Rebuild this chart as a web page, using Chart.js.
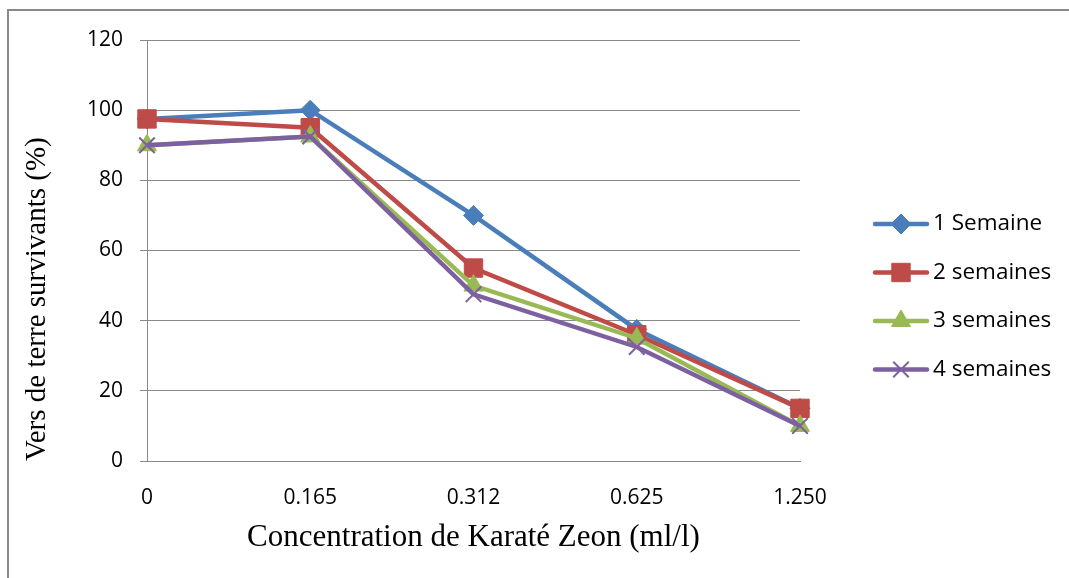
<!DOCTYPE html>
<html>
<head>
<meta charset="utf-8">
<script src="https://cdn.jsdelivr.net/npm/chart.js@4/dist/chart.umd.min.js"></script>
<style>
  html, body { margin: 0; padding: 0; background: #fff; }
  #wrap { width: 1069px; height: 578px; }
</style>
</head>
<body>
<div id="wrap"><canvas id="survieChart" width="1069" height="578"></canvas></div>
<script>
// Concentrations (ml/l) on the x axis
const concentrations = ['0', '0.165', '0.312', '0.625', '1.250'];

// Surviving earthworms (%) per week of exposure
const semaine1 = [97.5, 100, 70, 37.5, 15];
const semaine2 = [97.5, 95, 55, 36, 15];
const semaine3 = [90, 92.5, 50, 35, 10];
const semaine4 = [90, 92.5, 47.5, 32.5, 10];

const seriesLabels = ['1 Semaine', '2 semaines', '3 semaines', '4 semaines'];

const tickFont = { family: 'Open Sans', size: 21 };
const legendFont = '22.5px "Open Sans"';
const serifFont = 'Liberation Serif';

function serie(label, data, color, style, radius, order) {
    return {
        label: label,
        data: data,
        borderColor: color,
        backgroundColor: color,
        borderWidth: 4.5,
        pointStyle: style,
        pointRadius: radius,
        pointHoverRadius: radius,
        pointBackgroundColor: color,
        pointBorderColor: color,
        pointBorderWidth: style === 'crossRot' ? 2 : 1,
        lineTension: 0,
        clip: false,
        order: order
    };
}

// frame round the whole chart + legend with line and marker
const framePlugin = {
    id: 'frame',
    afterDraw(chart) {
        const ctx = chart.ctx;
        ctx.save();
        ctx.strokeStyle = '#898989';
        ctx.lineWidth = 2;
        ctx.strokeRect(8, 10, 1100, 600);

        chart.data.datasets.forEach(function(ds, i) {
            const y = 224 + i * 48.5;
            ctx.strokeStyle = ds.borderColor;
            ctx.fillStyle = ds.borderColor;
            ctx.lineWidth = 4.5;
            ctx.lineCap = 'round';
            ctx.beginPath();
            ctx.moveTo(875, y);
            ctx.lineTo(927, y);
            ctx.stroke();
            ctx.lineCap = 'butt';
            ctx.lineWidth = ds.pointBorderWidth;
            Chart.helpers.drawPoint(ctx, {
                pointStyle: ds.pointStyle,
                radius: ds.pointRadius,
                borderWidth: ds.pointBorderWidth,
                rotation: 0
            }, 901, y);
            ctx.fillStyle = '#000';
            ctx.font = legendFont;
            ctx.textBaseline = 'middle';
            ctx.textAlign = 'left';
            ctx.fillText(ds.label, 933, y);
        });
        ctx.restore();
    }
};

const ctx = document.getElementById('survieChart').getContext('2d');

new Chart(ctx, {
    type: 'line',
    data: {
        labels: concentrations,
        datasets: [
            serie(seriesLabels[0], semaine1, '#4A7EBB', 'rectRot', 10, 4),
            serie(seriesLabels[1], semaine2, '#BE4B48', 'rect', 13, 3),
            serie(seriesLabels[2], semaine3, '#98B954', 'triangle', 11, 2),
            serie(seriesLabels[3], semaine4, '#7D60A0', 'crossRot', 11, 1)
        ]
    },
    options: {
        responsive: false,
        animation: false,
        events: [],
        layout: { padding: { left: 8, top: 40, right: 269, bottom: 8 } },
        plugins: {
            legend: { display: false },
            tooltip: { enabled: false }
        },
        scales: {
            x: {
                offset: false,
                grid: { display: false },
                border: { display: true, color: '#898989', width: 1 },
                ticks: { color: '#000', font: tickFont, padding: 16, maxRotation: 0 },
                title: {
                    display: true,
                    text: 'Concentration de Karaté Zeon (ml/l)',
                    color: '#000',
                    font: { family: serifFont, size: 31 },
                    padding: { top: 0, bottom: 14 }
                },
                afterFit(scale) { scale.height = 109; }
            },
            y: {
                min: 0,
                max: 120,
                ticks: { stepSize: 20, color: '#000', font: tickFont, padding: 17 },
                grid: { color: '#898989', lineWidth: 1, drawTicks: true, tickLength: 7 },
                border: { display: true, color: '#898989', width: 1 },
                title: {
                    display: true,
                    text: 'Vers de terre survivants (%)',
                    align: 'start',
                    color: '#000',
                    font: { family: serifFont, size: 29 },
                    padding: { top: 12, bottom: 0 }
                },
                afterFit(scale) { scale.width = 139; }
            }
        }
    },
    plugins: [framePlugin]
});
</script>
</body>
</html>
